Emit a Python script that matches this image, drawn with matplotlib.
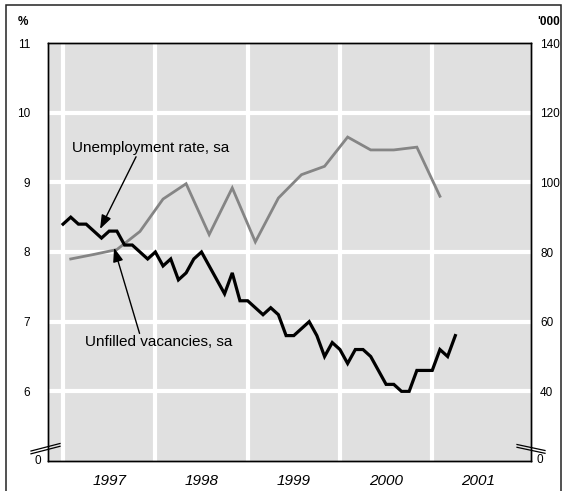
import numpy as np
import matplotlib
matplotlib.use('Agg')
import matplotlib.pyplot as plt
from matplotlib.lines import Line2D
from matplotlib.patches import Rectangle

plt.rcParams['font.family'] = ['Liberation Sans', 'DejaVu Sans']

# unemployment rate, %, monthly from Jan 1997
unemp = [8.4, 8.5, 8.4, 8.4, 8.3, 8.2, 8.3, 8.3, 8.1, 8.1, 8.0, 7.9,
         8.0, 7.8, 7.9, 7.6, 7.7, 7.9, 8.0, 7.8, 7.6, 7.4, 7.7, 7.3,
         7.3, 7.2, 7.1, 7.2, 7.1, 6.8, 6.8, 6.9, 7.0, 6.8, 6.5, 6.7,
         6.6, 6.4, 6.6, 6.6, 6.5, 6.3, 6.1, 6.1, 6.0, 6.0, 6.3, 6.3,
         6.3, 6.6, 6.5, 6.8]
# unfilled vacancies, '000, quarterly from Feb 1997
vac = [78.0, 79.3, 80.7, 85.9, 95.2, 99.6, 85.0, 98.4, 82.9, 95.5,
       102.2, 104.6, 113.0, 109.3, 109.3, 110.1, 96.0]
years = [1997, 1998, 1999, 2000, 2001]
left_ticks = [6, 7, 8, 9, 10, 11]
right_ticks = [40, 60, 80, 100, 120, 140]

x_unemp = 1997 + np.arange(len(unemp)) / 12.0
x_vac = 1997 + (1 + 3 * np.arange(len(vac))) / 12.0

W, H = 567, 491
fig = plt.figure(figsize=(W / 100, H / 100), dpi=100)
# pixel box of the plot: left 48, right 531, top 43, bottom 461
ax = fig.add_axes([48 / W, (H - 461) / H, (531 - 48) / W, (461 - 43) / H])
ax2 = ax.twinx()
ax.set_zorder(2)
ax2.set_zorder(1)
ax.patch.set_visible(False)
ax2.patch.set_visible(True)
ax2.patch.set_facecolor('#e0e0e0')

ax.set_xlim(1996.837, 2002.07)
ax.set_ylim(5, 11)
ax2.set_ylim(20, 140)

# white grid
for yr in years:
    ax2.axvline(yr, color='white', lw=3, zorder=1)
for v in right_ticks[:-1]:
    ax2.axhline(v, color='white', lw=3, zorder=1)

ax2.plot(x_vac, vac, color='#858585', lw=2.0, zorder=3, solid_joinstyle='miter')
ax.plot(x_unemp, unemp, color='black', lw=2.3, zorder=4, solid_joinstyle='miter')

for a in (ax, ax2):
    for s in a.spines.values():
        s.set_color('black')
        s.set_linewidth(1)

ax.set_yticks(left_ticks)
ax.tick_params(axis='y', length=0, pad=13, labelsize=8.5)
ax2.set_yticks(right_ticks)
ax2.tick_params(axis='y', length=0, pad=6.5, labelsize=8.5)

ax.set_xticks(years)
ax.set_xticklabels([])
ax.set_xticks([y + 0.5 for y in years], minor=True)
ax.set_xticklabels([str(y) for y in years], minor=True, fontstyle='italic', fontsize=11)
ax.tick_params(axis='x', which='both', length=0, pad=9.5)

# annotations
ax.text(1997.098, 9.496, 'Unemployment rate, sa', fontsize=11, va='center', ha='left')
ax.annotate('', xy=(1997.401, 8.33), xytext=(1997.791, 9.367),
            arrowprops=dict(arrowstyle='-|>,head_length=0.6,head_width=0.22',
                            mutation_scale=14, lw=1, color='black',
                            shrinkA=0, shrinkB=0))
ax.text(1997.238, 6.702, 'Unfilled vacancies, sa', fontsize=11, va='center', ha='left')
ax.annotate('', xy=(1997.553, 8.06), xytext=(1997.829, 6.831),
            arrowprops=dict(arrowstyle='-|>,head_length=0.6,head_width=0.22',
                            mutation_scale=14, lw=1, color='black',
                            shrinkA=0, shrinkB=0))

def fx(px):
    return px / W

def fy(py):
    return (H - py) / H

# unit labels and zero labels
fig.text(fx(22.5), fy(22), '%', fontsize=8.5, fontweight='bold', ha='center', va='center')
fig.text(fx(537), fy(22), "'000", fontsize=8.5, fontweight='bold', ha='left', va='center')
fig.text(fx(38), fy(461), '0', fontsize=8.5, ha='center', va='center')
fig.text(fx(539.5), fy(460), '0', fontsize=8.5, ha='center', va='center')

# axis break marks
for d in (0, 2.8):
    fig.add_artist(Line2D([fx(31), fx(60)], [fy(451 + d), fy(443.5 + d)], color='black', lw=0.9))
    fig.add_artist(Line2D([fx(517), fx(545)], [fy(444.5 + d), fy(450.5 + d)], color='black', lw=0.9))

# outer frame
fig.add_artist(Rectangle((fx(6), -0.01), fx(561) - fx(6), fy(5) + 0.01,
                         fill=False, edgecolor='#222222', lw=1.1, transform=fig.transFigure))

fig.savefig('out.png', dpi=100)
